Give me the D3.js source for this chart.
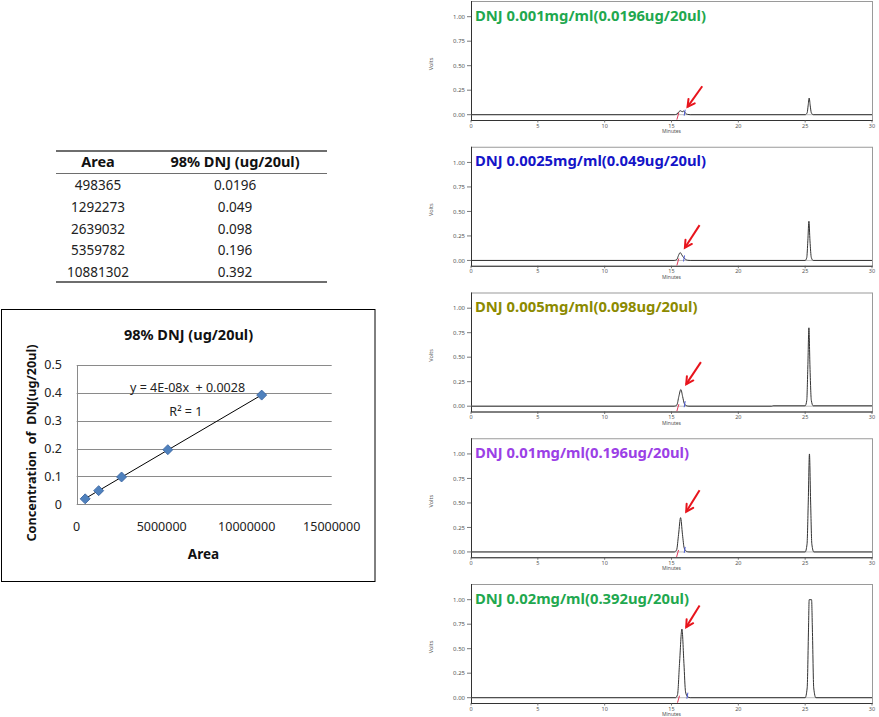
<!DOCTYPE html>
<html>
<head>
<meta charset="utf-8">
<script src="https://cdn.jsdelivr.net/npm/d3@7"></script>
<style>
  html, body { margin: 0; padding: 0; background: #fff; }
  svg { display: block; }
  text { font-family: "Noto Sans", "DejaVu Sans", sans-serif; }
</style>
</head>
<body>
<svg id="c" width="879" height="717"></svg>
<script>
// ---------------- DATA ----------------
const tableHeader = ["Area", "98% DNJ (ug/20ul)"];
const areas = [498365, 1292273, 2639032, 5359782, 10881302];
const concentrations = [0.0196, 0.049, 0.098, 0.196, 0.392];
const concLabels = ["0.0196", "0.049", "0.098", "0.196", "0.392"];

const scatterTitle = "98% DNJ (ug/20ul)";
const scatterXTicks = [0, 5000000, 10000000, 15000000];
const scatterYTicks = [0, 0.1, 0.2, 0.3, 0.4, 0.5];
const scatterXTitle = "Area";
const scatterYTitle = "Concentration  of  DNJ(ug/20ul)";
const equationText = "y = 4E-08x  + 0.0028";
const r2Text = "R² = 1";
const equationPos = [6520000, 0.418];
const r2Pos = [6420000, 0.334];

const panelTitles = [
  "DNJ 0.001mg/ml(0.0196ug/20ul)",
  "DNJ 0.0025mg/ml(0.049ug/20ul)",
  "DNJ 0.005mg/ml(0.098ug/20ul)",
  "DNJ 0.01mg/ml(0.196ug/20ul)",
  "DNJ 0.02mg/ml(0.392ug/20ul)"
];
const panelTitleColors = ["#1fa84f", "#1414c8", "#8c8a00", "#9b40e6", "#1fa84f"];
const chromXTicks = [0, 5, 10, 15, 20, 25, 30];
const chromYTicks = [0, 0.25, 0.5, 0.75, 1.0];

// traces: [minutes, volts]
const trace1 = [[0,0],[15.2,0],[15.4,0.006],[15.55,0.03],[15.68,0.04],[15.8,0.03],[15.92,0.038],[16.05,0.015],[16.2,0.003],[16.4,0],[25.0,0],[25.15,0.02],[25.22,0.09],[25.3,0.17],[25.38,0.09],[25.46,0.02],[25.6,0],[30,0]];
const trace2 = [[0,0],[15.2,0],[15.4,0.01],[15.52,0.05],[15.65,0.08],[15.78,0.055],[15.9,0.03],[16.05,0.012],[16.2,0.002],[16.4,0],[25.0,0],[25.12,0.03],[25.2,0.2],[25.28,0.40],[25.36,0.2],[25.46,0.03],[25.6,0],[30,0]];
const trace3 = [[0,0],[15.2,0],[15.4,0.012],[15.55,0.1],[15.7,0.17],[15.83,0.1],[15.95,0.03],[16.1,0.006],[16.3,0],[22.5,0],[22.6,0.004],[25.0,0.004],[25.12,0.06],[25.2,0.4],[25.28,0.80],[25.36,0.4],[25.46,0.06],[25.6,0.004],[30,0.004]];
const trace4 = [[0,0],[15.2,0],[15.38,0.02],[15.53,0.18],[15.68,0.35],[15.82,0.18],[15.95,0.04],[16.1,0.008],[16.3,0],[25.0,0],[25.14,0.08],[25.23,0.5],[25.32,1.0],[25.41,0.5],[25.5,0.08],[25.65,0],[30,0]];
const trace5 = [[0,0],[15.3,0],[15.45,0.03],[15.6,0.35],[15.78,0.70],[15.93,0.35],[16.05,0.06],[16.2,0.01],[16.4,0],[25.0,0],[25.15,0.1],[25.25,0.7],[25.3,1.0],[25.48,1.0],[25.54,0.7],[25.64,0.1],[25.8,0],[30,0]];
const traces = [trace1, trace2, trace3, trace4, trace5];

// integration marks [startTime, endTime]
const integrationMarks = [[15.4, 15.95], [15.4, 15.9], [15.4, 15.95], [15.38, 15.95], [15.45, 16.15]];

// red arrows [tailTime, tailVolts, headTime, headVolts]
const arrows = [
  [17.3, 0.29, 16.2, 0.08],
  [17.1, 0.36, 16.0, 0.13],
  [17.2, 0.45, 16.1, 0.225],
  [17.1, 0.63, 16.1, 0.41],
  [17.1, 0.94, 16.1, 0.72]
];

// ---------------- DRAW ----------------
const svg = d3.select("#c");

// ---- table ----
const tbl = svg.append("g");
const colX = [98, 235];
const tL = 56, tR = 327;
tbl.append("line").attr("x1", tL).attr("x2", tR).attr("y1", 151).attr("y2", 151).attr("stroke", "#6e6e6e").attr("stroke-width", 2);
tbl.append("line").attr("x1", tL).attr("x2", tR).attr("y1", 173.5).attr("y2", 173.5).attr("stroke", "#6e6e6e").attr("stroke-width", 1);
tbl.append("line").attr("x1", tL).attr("x2", tR).attr("y1", 282).attr("y2", 282).attr("stroke", "#6e6e6e").attr("stroke-width", 2);
tableHeader.forEach((h, i) => {
  tbl.append("text").attr("x", colX[i]).attr("y", 167).attr("text-anchor", "middle")
    .attr("font-size", 14.5).attr("font-weight", "bold").attr("fill", "#111").text(h);
});
areas.forEach((a, i) => {
  const y = 190 + i * 21.8;
  tbl.append("text").attr("x", colX[0]).attr("y", y).attr("text-anchor", "middle")
    .attr("font-size", 13.5).attr("fill", "#222").text(String(a));
  tbl.append("text").attr("x", colX[1]).attr("y", y).attr("text-anchor", "middle")
    .attr("font-size", 13.5).attr("fill", "#222").text(concLabels[i]);
});

// ---- scatter ----
const sc = svg.append("g");
sc.append("rect").attr("x", 1.5).attr("y", 309.5).attr("width", 373.5).attr("height", 272)
  .attr("fill", "#fff").attr("stroke", "#000").attr("stroke-width", 1);
const sx = d3.scaleLinear().domain([0, 15000000]).range([76.7, 331.7]);
const sy = d3.scaleLinear().domain([0, 0.5]).range([504.3, 365]);

sc.selectAll(".grid").data(scatterYTicks.filter(d => d > 0)).join("line")
  .attr("x1", sx(0)).attr("x2", sx(15000000))
  .attr("y1", d => Math.round(sy(d)) + 0.5).attr("y2", d => Math.round(sy(d)) + 0.5)
  .attr("stroke", "#8a8a8a").attr("stroke-width", 1);
sc.append("line").attr("x1", sx(0)).attr("x2", sx(15000000)).attr("y1", Math.round(sy(0)) + 0.5).attr("y2", Math.round(sy(0)) + 0.5).attr("stroke", "#8a8a8a");
sc.append("line").attr("x1", Math.round(sx(0)) + 0.5).attr("x2", Math.round(sx(0)) + 0.5).attr("y1", sy(0.5)).attr("y2", sy(0)).attr("stroke", "#8a8a8a");

sc.selectAll(".ytl").data(scatterYTicks).join("text")
  .attr("x", 62).attr("y", d => sy(d)).attr("dy", "0.35em").attr("text-anchor", "end")
  .attr("font-size", 12.5).attr("fill", "#222").text(d => d3.format("")(d));
sc.selectAll(".xtl").data(scatterXTicks).join("text")
  .attr("x", d => sx(d)).attr("y", 531).attr("text-anchor", "middle")
  .attr("font-size", 12.5).attr("fill", "#222").text(d => String(d));

sc.append("text").attr("x", 188.5).attr("y", 340).attr("text-anchor", "middle")
  .attr("font-size", 14.5).attr("font-weight", "bold").attr("fill", "#111").text(scatterTitle);
sc.append("text").attr("x", 203.5).attr("y", 559).attr("text-anchor", "middle")
  .attr("font-size", 13.5).attr("font-weight", "bold").attr("fill", "#111").text(scatterXTitle);
sc.append("text").attr("transform", "translate(36,443) rotate(-90)").attr("text-anchor", "middle")
  .attr("font-size", 12.7).attr("font-weight", "bold").attr("fill", "#111")
  .style("white-space", "pre").text(scatterYTitle);

// trendline (least squares)
const n = areas.length;
const mx = d3.mean(areas), my = d3.mean(concentrations);
let sxy = 0, sxx = 0;
for (let i = 0; i < n; i++) { sxy += (areas[i] - mx) * (concentrations[i] - my); sxx += (areas[i] - mx) ** 2; }
const slope = sxy / sxx, icpt = my - slope * mx;
const xMin = d3.min(areas), xMax = d3.max(areas);
sc.append("line").attr("x1", sx(xMin)).attr("y1", sy(slope * xMin + icpt))
  .attr("x2", sx(xMax)).attr("y2", sy(slope * xMax + icpt))
  .attr("stroke", "#000").attr("stroke-width", 1);

const diamond = d3.symbol().type(d3.symbolSquare).size(50);
sc.selectAll(".pt").data(areas.map((a, i) => [a, concentrations[i]])).join("path")
  .attr("d", diamond)
  .attr("transform", d => `translate(${sx(d[0])},${sy(d[1])}) rotate(45)`)
  .attr("fill", "#4f81bd").attr("stroke", "#3a64a0").attr("stroke-width", 0.8);

sc.append("text").attr("x", sx(equationPos[0])).attr("y", sy(equationPos[1])).attr("dy", "0.35em")
  .attr("text-anchor", "middle").attr("font-size", 12.5).attr("fill", "#222")
  .style("white-space", "pre").text(equationText);
sc.append("text").attr("x", sx(r2Pos[0])).attr("y", sy(r2Pos[1])).attr("dy", "0.35em")
  .attr("text-anchor", "middle").attr("font-size", 12.5).attr("fill", "#222").text(r2Text);

// ---- chromatograms ----
const pL = 471, pR = 872, pH = 119, firstTop = 1, step = 145.75;
traces.forEach((tr, i) => {
  const top = firstTop + i * step;
  const g = svg.append("g");
  const x = d3.scaleLinear().domain([0, 30]).range([pL, pR]);
  const y = d3.scaleLinear().domain([0, 1]).range([top + 113.7, top + 15.7]);
  const bottom = top + pH;

  g.append("rect").attr("x", pL + 0.5).attr("y", top + 0.5).attr("width", pR - pL).attr("height", pH)
    .attr("fill", "#fff").attr("stroke", "#9a9a9a").attr("stroke-width", 1);
  g.append("line").attr("x1", pL + 0.5).attr("x2", pL + 0.5).attr("y1", top).attr("y2", bottom + 0.5).attr("stroke", "#333");
  g.append("line").attr("x1", pL).attr("x2", pR + 0.5).attr("y1", bottom + 0.5).attr("y2", bottom + 0.5).attr("stroke", "#333");

  // y ticks
  chromYTicks.forEach(v => {
    g.append("line").attr("x1", pL - 4).attr("x2", pL).attr("y1", y(v)).attr("y2", y(v)).attr("stroke", "#555").attr("stroke-width", 0.8);
    g.append("text").attr("x", pL - 6).attr("y", y(v)).attr("dy", "0.35em").attr("text-anchor", "end")
      .attr("font-size", 6).attr("fill", "#555").text(d3.format(".2f")(v));
  });
  // x ticks
  chromXTicks.forEach(t => {
    g.append("line").attr("x1", x(t)).attr("x2", x(t)).attr("y1", bottom).attr("y2", bottom + 2.5).attr("stroke", "#555").attr("stroke-width", 0.8);
    g.append("text").attr("x", x(t)).attr("y", bottom + 7.6).attr("text-anchor", "middle")
      .attr("font-size", 5.5).attr("fill", "#555").text(t);
  });
  g.append("text").attr("x", x(15)).attr("y", bottom + 13).attr("text-anchor", "middle")
    .attr("font-size", 5).attr("fill", "#555").text("Minutes");
  g.append("text").attr("transform", `translate(433,${top + 63}) rotate(-90)`).attr("text-anchor", "middle")
    .attr("font-size", 5.5).attr("fill", "#555").text("Volts");

  // zero reference line
  g.append("line").attr("x1", pL).attr("x2", pR).attr("y1", y(0)).attr("y2", y(0)).attr("stroke", "#aaa").attr("stroke-width", 0.8);

  // trace
  const line = d3.line().x(d => x(d[0])).y(d => y(d[1])).curve(d3.curveMonotoneX);
  g.append("path").attr("d", line(tr)).attr("fill", "none").attr("stroke", "#333").attr("stroke-width", 1);

  // integration marks
  const [s, e] = integrationMarks[i];
  g.append("line").attr("x1", x(s)).attr("x2", x(s) + 2).attr("y1", y(0) + 5).attr("y2", y(0) - 2).attr("stroke", "#e03a5a").attr("stroke-width", 1);
  g.append("line").attr("x1", x(e)).attr("x2", x(e) + 1).attr("y1", y(0) + 1).attr("y2", y(0) - 5).attr("stroke", "#4a5ad8").attr("stroke-width", 1);

  // title
  g.append("text").attr("x", pL + 4).attr("y", top + 19.5).attr("font-size", 14.8).attr("font-weight", "bold")
    .attr("fill", panelTitleColors[i]).text(panelTitles[i]);

  // arrow
  const [t0, v0, t1, v1] = arrows[i];
  const x0 = x(t0), y0 = y(v0), x1 = x(t1), y1 = y(v1);
  const ang = Math.atan2(y1 - y0, x1 - x0);
  const hl = 8, ha = 0.5;
  g.append("line").attr("x1", x0).attr("y1", y0).attr("x2", x1).attr("y2", y1)
    .attr("stroke", "#e8141c").attr("stroke-width", 2);
  g.append("path")
    .attr("d", `M${x1 - hl * Math.cos(ang - ha)},${y1 - hl * Math.sin(ang - ha)}L${x1},${y1}L${x1 - hl * Math.cos(ang + ha)},${y1 - hl * Math.sin(ang + ha)}`)
    .attr("fill", "none").attr("stroke", "#e8141c").attr("stroke-width", 2).attr("stroke-linecap", "round");
});
</script>
</body>
</html>
